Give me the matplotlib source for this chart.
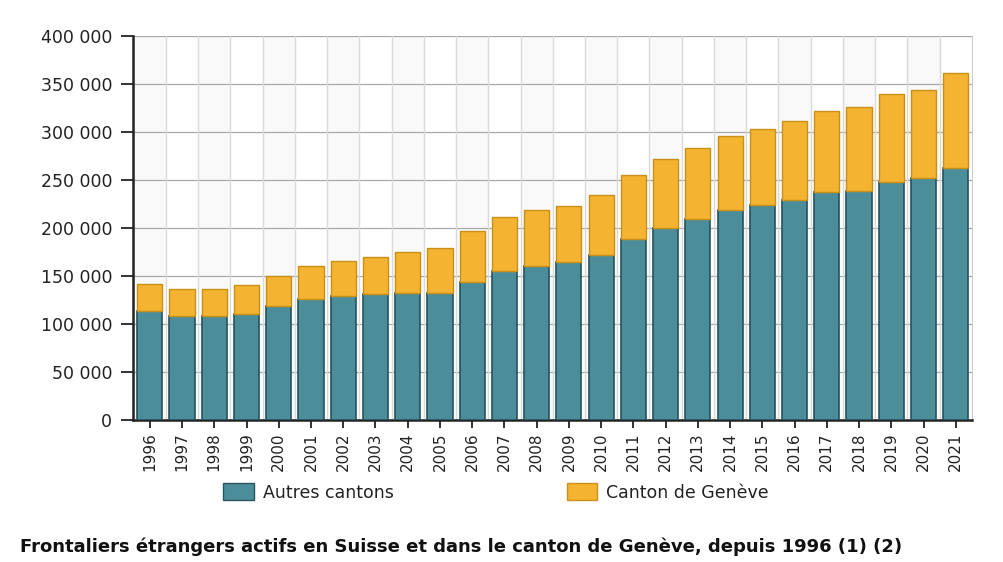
import matplotlib
matplotlib.use("Agg")
import matplotlib.pyplot as plt
from matplotlib.patches import Patch
from matplotlib.ticker import FuncFormatter

years = [str(y) for y in range(1996, 2022)]
autres_cantons = [113500, 108100, 108000, 110900, 118800, 126500, 129600, 131000,
                  132000, 132000, 143800, 155200, 160400, 164600, 171500, 188500,
                  199900, 209200, 218600, 223800, 229400, 237300, 238400, 248100,
                  251600, 262700]
totals = [141400, 136200, 136000, 140300, 149700, 160100, 165300, 169400,
          174600, 178800, 196500, 211000, 218300, 222500, 234600, 255700,
          271600, 283800, 295500, 303500, 311900, 322200, 326100, 339200,
          343400, 361000]
geneve = [t - a for t, a in zip(totals, autres_cantons)]

teal = "#4b8e9a"
teal_edge = "#24545e"
gold = "#f4b432"
gold_edge = "#c98f16"

fig = plt.figure(figsize=(10.04, 5.62), dpi=100)
ax = fig.add_axes([0.1325, 0.2527, 0.8355, 0.6833])

x = list(range(len(years)))

# alternating column bands + vertical separators
for i in x:
    if i % 2 == 0:
        ax.axvspan(i - 0.5, i + 0.5, color="#f9f9f9", zorder=0, lw=0)
    if i > 0:
        ax.axvline(i - 0.5, color="#dadada", lw=1, zorder=1)

ax.yaxis.grid(True, color="#a8a8a8", lw=0.9, zorder=1)
ax.set_axisbelow(True)

ax.bar(x, autres_cantons, width=0.78, color=teal, edgecolor=teal_edge, lw=1.2, zorder=3)
ax.bar(x, geneve, width=0.78, bottom=autres_cantons, color=gold, edgecolor=gold_edge,
       lw=1.0, zorder=3)

ax.set_xlim(-0.52, len(years) - 0.5)
ax.set_ylim(0, 400000)
ax.set_yticks(range(0, 400001, 50000))
ax.yaxis.set_major_formatter(FuncFormatter(lambda v, p: f"{int(v):,}".replace(",", " ")))
ax.set_xticks(x)
ax.set_xticklabels(years, rotation=90)

ax.tick_params(axis="y", length=9, width=1.3, color="#222222", labelsize=12.5,
               labelcolor="#222222", pad=6)
ax.tick_params(axis="x", length=6, width=1.3, color="#222222", labelsize=11,
               labelcolor="#222222", pad=3)

for side in ["left", "bottom"]:
    ax.spines[side].set_color("#222222")
    ax.spines[side].set_linewidth(1.8)
ax.spines["top"].set_visible(False)
ax.spines["right"].set_color("#cccccc")

legend_items = [("Autres cantons", teal, teal_edge, 0.207),
                ("Canton de Genève", gold, gold_edge, 0.549)]
for label, fc, ec, xpos in legend_items:
    leg = fig.legend(handles=[Patch(facecolor=fc, edgecolor=ec, label=label)],
                     loc="center left", bbox_to_anchor=(xpos, 0.124), frameon=False,
                     fontsize=12.5, handlelength=1.75, handleheight=1.15,
                     handletextpad=0.5)
    for t in leg.get_texts():
        t.set_color("#222222")

fig.text(0.02, 1 - 538 / 562,
         "Frontaliers étrangers actifs en Suisse et dans le canton de Genève, depuis 1996 (1) (2)",
         fontsize=13.0, fontweight="bold", color="#111111", va="top", ha="left")

fig.savefig("out.png", dpi=100, facecolor="white")
